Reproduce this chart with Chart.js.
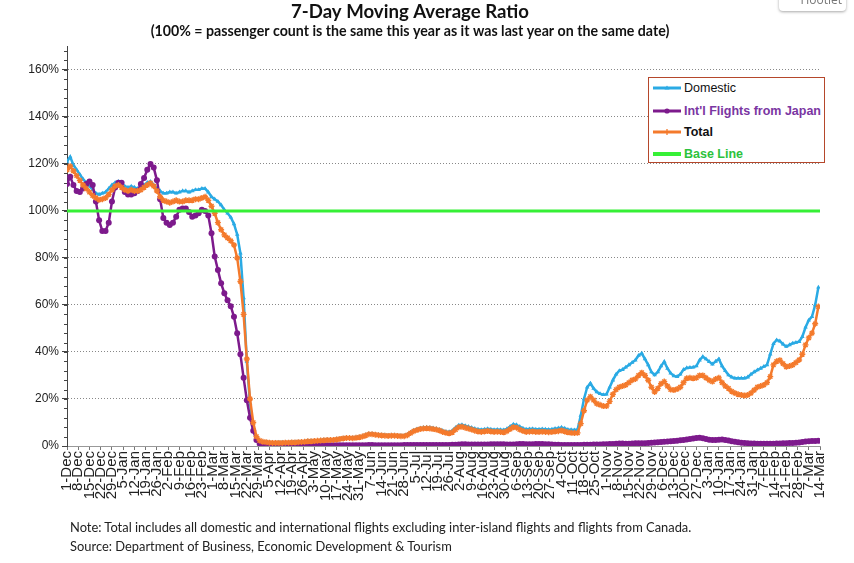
<!DOCTYPE html>
<html>
<head>
<meta charset="utf-8">
<script src="https://cdn.jsdelivr.net/npm/chart.js@4.4.1/dist/chart.umd.min.js"></script>
<style>
  body { margin: 0; background: #fff; }
  #wrap { position: relative; width: 854px; height: 563px; overflow: hidden; }
  #legend { position: absolute; left: 648px; top: 77px; width: 175px; height: 84px;
    border: 1px solid #b5472b; background: #fff; font-family: "Liberation Sans", Arial, sans-serif; font-size: 12.5px; }
  #legend .row { position: absolute; left: 4px; height: 16px; display: flex; align-items: center; }
  #legend svg { margin-right: 2px; }
  #note { position: absolute; left: 70px; top: 518px; font-family: Lato, sans-serif; font-size: 12.9px;
    line-height: 19px; color: #222; }
  #hoot { position: absolute; left: 779px; top: -10px; width: 67px; height: 21px; border-radius: 4px;
    background: #fff; box-shadow: 0 1px 3px rgba(0,0,0,0.35); font-family: "Open Sans", sans-serif;
    font-size: 12px; color: #777; line-height: 20px; text-align: right; padding-right: 4px; box-sizing: border-box; }
</style>
</head>
<body>
<div id="wrap">
  <canvas id="myChart"></canvas>
  <div id="legend"></div>
  <div id="note">Note: Total includes all domestic and international flights excluding inter-island flights and flights from Canada.<br>Source: Department of Business, Economic Development &amp; Tourism</div>
  <div id="hoot">Hootlet</div>
</div>
<script>
// one reading every 2 days, starting 1-Dec-2019
const stepDays = 2;

const weekLabels = [
  '1-Dec', '8-Dec', '15-Dec', '22-Dec', '29-Dec', '5-Jan', '12-Jan', '19-Jan', '26-Jan',
  '2-Feb', '9-Feb', '16-Feb', '23-Feb', '1-Mar', '8-Mar', '15-Mar', '22-Mar', '29-Mar',
  '5-Apr', '12-Apr', '19-Apr', '26-Apr', '3-May', '10-May', '17-May', '24-May', '31-May',
  '7-Jun', '14-Jun', '21-Jun', '28-Jun', '5-Jul', '12-Jul', '19-Jul', '26-Jul', '2-Aug',
  '9-Aug', '16-Aug', '23-Aug', '30-Aug', '6-Sep', '13-Sep', '20-Sep', '27-Sep', '4-Oct',
  '11-Oct', '18-Oct', '25-Oct', '1-Nov', '8-Nov', '15-Nov', '22-Nov', '29-Nov', '6-Dec',
  '13-Dec', '20-Dec', '27-Dec', '3-Jan', '10-Jan', '17-Jan', '24-Jan', '31-Jan', '7-Feb',
  '14-Feb', '21-Feb', '28-Feb', '7-Mar', '14-Mar'
];

const yTicks = [0, 20, 40, 60, 80, 100, 120, 140, 160];
const baseLineValue = 100;

const domestic = [
  121, 123, 119.5, 117.5, 115.5, 113.5, 112, 110.5, 109, 107.5,
  107, 107.5, 108, 109.5, 111, 112, 112.5, 111.5, 110.5, 110,
  110.5, 110, 109.5, 110, 111, 112, 112.5, 111, 109.5, 108.5,
  107.5, 107.5, 108, 108, 107.5, 108, 108.5, 108.5, 108, 108.5,
  109, 109, 109.5, 109.5, 108, 106, 105, 104, 102.5, 100.5,
  99, 97.3, 94.5, 90, 82, 63, 36, 18, 7, 3.2,
  2.2, 1.8, 1.7, 1.6, 1.5, 1.5, 1.5, 1.5, 1.6, 1.6,
  1.7, 1.7, 1.8, 1.9, 2.0, 2.2, 2.2, 2.3, 2.4, 2.5,
  2.6, 2.7, 2.7, 2.8, 3.0, 3.2, 3.4, 3.6, 3.6, 3.5,
  3.7, 3.9, 4.2, 4.7, 5.2, 5.2, 5.0, 4.8, 4.7, 4.6,
  4.5, 4.6, 4.6, 4.5, 4.4, 4.4, 4.9, 5.8, 6.7, 7.2,
  7.6, 7.8, 7.9, 7.8, 7.6, 7.4, 7.0, 6.5, 6.1, 6.0,
  6.5, 7.8, 8.8, 9.0, 8.6, 8.2, 7.8, 7.4, 7.1, 6.9,
  7.1, 7.3, 7.1, 6.9, 7.0, 6.9, 6.8, 7.3, 8.3, 9.2,
  9.0, 8.2, 7.5, 7.1, 7.2, 7.3, 7.1, 7.1, 7.2, 7.1,
  7.0, 7.1, 7.4, 7.6, 7.9, 7.5, 7.0, 6.9, 6.8, 7.0,
  13, 20, 25, 26.7, 24.5, 23, 22.2, 21.8, 22, 25,
  28, 30.5, 32, 32.5, 33.5, 34.5, 35.5, 36.5, 38.5, 39.4,
  37, 34.5, 31.5, 30.2, 31.5, 34, 35.9, 33, 31, 29.8,
  29.5, 30.5, 32.5, 33.2, 33.4, 33.5, 34, 36.5, 38, 37,
  35.9, 34.8, 36, 37, 34, 32, 30.2, 29.3, 28.8, 28.8,
  28.8, 28.8, 29.3, 30.5, 31.5, 32.3, 33, 33.8, 34.5, 39,
  43.5, 45.1, 44.6, 43.3, 42.3, 43, 43.7, 44, 44.4, 46.5,
  50.5, 53.5, 55, 60, 67.5
];

const japan = [
  111.5, 114.5, 111, 108.5, 108, 109.5, 111.5, 112.5, 111, 104,
  96, 91.5, 91.5, 95, 104, 110, 112, 112, 108, 107,
  107, 107.5, 108.5, 111.5, 114, 117.5, 120, 118.5, 113, 105,
  97, 95, 94, 95, 97.5, 100.5, 101, 101, 99.5, 97.5,
  98, 99, 100.5, 100, 98, 90.5, 80.6, 74.9, 69.2, 65,
  62, 59.5, 55, 48, 39, 29, 19.5, 12, 6.5, 2.5,
  1.0, 0.6, 0.5, 0.4, 0.4, 0.3, 0.3, 0.3, 0.3, 0.3,
  0.3, 0.3, 0.3, 0.2, 0.3, 0.3, 0.3, 0.3, 0.3, 0.3,
  0.3, 0.3, 0.3, 0.3, 0.3, 0.3, 0.3, 0.3, 0.3, 0.3,
  0.3, 0.3, 0.3, 0.3, 0.4, 0.4, 0.3, 0.3, 0.3, 0.3,
  0.3, 0.3, 0.3, 0.3, 0.3, 0.4, 0.4, 0.4, 0.4, 0.4,
  0.4, 0.4, 0.4, 0.4, 0.4, 0.4, 0.4, 0.4, 0.4, 0.4,
  0.5, 0.5, 0.6, 0.7, 0.7, 0.6, 0.6, 0.6, 0.6, 0.6,
  0.6, 0.6, 0.7, 0.7, 0.7, 0.7, 0.7, 0.6, 0.6, 0.6,
  0.7, 0.8, 0.8, 0.7, 0.7, 0.7, 0.8, 0.8, 0.8, 0.7,
  0.7, 0.6, 0.5, 0.5, 0.4, 0.4, 0.4, 0.4, 0.4, 0.4,
  0.4, 0.5, 0.5, 0.5, 0.6, 0.6, 0.6, 0.7, 0.7, 0.8,
  0.9, 1.0, 1.1, 1.1, 1.0, 1.0, 1.1, 1.2, 1.2, 1.2,
  1.2, 1.3, 1.4, 1.5, 1.6, 1.7, 1.8, 1.9, 2.0, 2.1,
  2.2, 2.4, 2.6, 2.8, 3.0, 3.2, 3.4, 3.5, 3.3, 3.0,
  2.7, 2.6, 2.6, 2.7, 2.8, 2.6, 2.3, 2.0, 1.8, 1.6,
  1.4, 1.3, 1.2, 1.1, 1.1, 1.0, 1.0, 1.0, 1.0, 1.0,
  1.0, 1.1, 1.1, 1.2, 1.2, 1.3, 1.3, 1.4, 1.5, 1.7,
  1.9, 2.0, 2.1, 2.1, 2.2
];

const total = [
  117.5, 119, 117, 115, 113, 111, 109.5, 108, 106.5, 105.5,
  104.7, 105, 105.5, 107, 109, 110.5, 111, 110, 109, 108.5,
  109, 108.5, 108.5, 109, 110, 111, 111.8, 110.5, 108.5, 106,
  104.5, 104, 103.5, 104, 104.5, 104, 104, 104.5, 104.5, 104.5,
  105, 105, 105.5, 106, 104.5, 102, 99, 95, 92, 89.8,
  88.5, 87.3, 85.5, 80, 70, 56, 37, 20, 10, 4,
  2.3, 1.8, 1.6, 1.4, 1.3, 1.3, 1.3, 1.3, 1.4, 1.4,
  1.5, 1.5, 1.6, 1.7, 1.8, 2.0, 2.0, 2.1, 2.2, 2.3,
  2.4, 2.5, 2.5, 2.6, 2.8, 3.0, 3.2, 3.4, 3.4, 3.3,
  3.5, 3.7, 4.0, 4.5, 5.0, 5.0, 4.8, 4.6, 4.5, 4.4,
  4.3, 4.4, 4.4, 4.3, 4.2, 4.2, 4.6, 5.5, 6.3, 6.8,
  7.2, 7.4, 7.5, 7.4, 7.2, 7.0, 6.6, 6.0, 5.6, 5.4,
  5.8, 7.0, 8.0, 8.2, 7.8, 7.4, 7.0, 6.5, 6.2, 6.0,
  6.2, 6.4, 6.2, 6.0, 6.1, 6.0, 5.8, 6.3, 7.2, 8.0,
  7.8, 7.0, 6.4, 6.0, 6.1, 6.2, 6.0, 6.0, 6.1, 6.0,
  5.9, 6.0, 6.2, 6.3, 6.6, 6.2, 5.8, 5.6, 5.5, 5.6,
  9.5, 15, 19.5, 21, 19.5, 18, 17.5, 17, 17, 19,
  22, 24, 25, 25.5, 26, 27, 28, 28.5, 30, 31.2,
  30, 28, 25, 23, 24.5, 26.5, 27.4, 25.5, 24, 23.8,
  24.2, 25, 27, 28.8, 29, 28.8, 29, 30, 30, 29,
  28, 27.4, 28.5, 29, 27, 25.5, 24.5, 23.2, 22.5, 22,
  21.7, 21.5, 21.7, 22.5, 23.8, 25, 25.5, 26, 27, 29.5,
  34.5, 36, 36.5, 35, 33.7, 34, 34.5, 35.5, 36.6, 39,
  43, 46, 48, 52, 59.3
];

const lastDay = (weekLabels.length - 1) * 7;
const toPoints = arr => arr.map((v, i) => ({ x: i * stepDays, y: v }));

const colors = {
  domestic: '#2aaae4',
  japan: '#7d1a8c',
  total: '#f47a2c',
  base: '#36f036'
};

const minorTicks = {
  id: 'minorTicks',
  afterDraw(chart) {
    const ys = chart.scales.y;
    const ctx = chart.ctx;
    const x0 = chart.chartArea.left;
    ctx.save();
    ctx.strokeStyle = '#444';
    ctx.lineWidth = 1;
    for (let v = 0; v <= 168; v += 4) {
      const py = Math.round(ys.getPixelForValue(v)) + 0.5;
      ctx.beginPath();
      ctx.moveTo(x0 - 3, py);
      ctx.lineTo(x0, py);
      ctx.stroke();
    }
    ctx.restore();
  }
};

const ctx = document.getElementById('myChart');

new Chart(ctx, {
  type: 'line',
  data: {
    datasets: [
      {
        label: 'Base Line',
        data: [{ x: 0, y: baseLineValue }, { x: lastDay, y: baseLineValue }],
        borderColor: colors.base,
        borderWidth: 3,
        pointRadius: 0,
        order: 0
      },
      {
        label: 'Total',
        data: toPoints(total),
        borderColor: colors.total,
        backgroundColor: colors.total,
        borderWidth: 2.5,
        pointStyle: 'star',
        pointRadius: 3,
        pointBorderWidth: 1.4,
        order: 1
      },
      {
        label: "Int'l Flights from Japan",
        data: toPoints(japan),
        borderColor: colors.japan,
        backgroundColor: colors.japan,
        borderWidth: 2.5,
        pointStyle: 'circle',
        pointRadius: 3,
        pointBorderWidth: 0,
        order: 2
      },
      {
        label: 'Domestic',
        data: toPoints(domestic),
        borderColor: colors.domestic,
        backgroundColor: colors.domestic,
        borderWidth: 2.5,
        pointStyle: 'triangle',
        pointRadius: 2.6,
        pointBorderWidth: 0,
        order: 3
      }
    ]
  },
  options: {
    responsive: true,
    maintainAspectRatio: false,
    animation: false,
    layout: { padding: { left: 0, right: 34, top: 0, bottom: 0 } },
    plugins: {
      legend: { display: false },
      tooltip: { enabled: false },
      title: {
        display: true,
        text: '7-Day Moving Average Ratio',
        color: '#111',
        font: { family: 'Lato', size: 18.6, weight: 'bold' },
        padding: { top: 1, bottom: 0 }
      },
      subtitle: {
        display: true,
        text: '(100% = passenger count is the same this year as it was last year on the same date)',
        color: '#111',
        font: { family: 'Lato', size: 14.2, weight: 'bold' },
        padding: { top: 0, bottom: 6 }
      }
    },
    elements: { line: { tension: 0 } },
    scales: {
      x: {
        type: 'linear',
        min: 0,
        max: lastDay,
        afterBuildTicks: s => { s.ticks = weekLabels.map((_, i) => ({ value: i * 7 })); },
        afterFit: s => { s.height = 117; },
        ticks: {
          autoSkip: false,
          minRotation: 90,
          maxRotation: 90,
          padding: 1,
          color: '#222',
          font: { family: 'Liberation Sans', size: 15 },
          callback: (v, i) => weekLabels[i]
        },
        grid: { drawOnChartArea: false, tickLength: 4, color: '#777' },
        border: { color: '#999' }
      },
      y: {
        min: 0,
        max: 170,
        afterBuildTicks: s => { s.ticks = yTicks.map(v => ({ value: v })); },
        afterFit: s => { s.width = 67; },
        ticks: {
          padding: 3,
          color: '#222',
          font: { family: 'Liberation Sans', size: 12 },
          callback: v => v + '%'
        },
        grid: {
          color: c => (c.tick && c.tick.value === 0 ? 'rgba(0,0,0,0)' : '#888'),
          tickColor: '#444',
          tickLength: 5,
          lineWidth: 1
        },
        // in v4 the dash here styles the grid lines
        border: { color: '#444', dash: [1, 2], dashOffset: 0 }
      }
    }
  },
  plugins: [minorTicks]
});

// legend box drawn as html to match the mixed text styles
const legendItems = [
  { text: 'Domestic', color: colors.domestic, textColor: '#111', weight: 'normal', marker: 'tri' },
  { text: "Int'l Flights from Japan", color: colors.japan, textColor: '#7a35a2', weight: 'bold', marker: 'dot' },
  { text: 'Total', color: colors.total, textColor: '#111', weight: 'bold', marker: 'plus' },
  { text: 'Base Line', color: colors.base, textColor: '#2cc23c', weight: 'bold', marker: 'none' }
];
const legendTops = [2, 25, 46, 68];
const legendEl = document.getElementById('legend');
legendItems.forEach((it, i) => {
  let mark = '';
  if (it.marker === 'dot') mark = `<circle cx="14" cy="8" r="2.6" fill="${it.color}"/>`;
  if (it.marker === 'tri') mark = `<path d="M14 5.5 L16.5 9.5 L11.5 9.5 Z" fill="${it.color}"/>`;
  if (it.marker === 'plus') mark = `<path d="M14 5 V11 M11 8 H17" stroke="${it.color}" stroke-width="1.3"/>`;
  const w = it.marker === 'none' ? 4 : 3;
  legendEl.insertAdjacentHTML('beforeend',
    `<div class="row" style="top:${legendTops[i]}px">` +
    `<svg width="29" height="16"><line x1="0" y1="8" x2="28" y2="8" stroke="${it.color}" stroke-width="${w}"/>${mark}</svg>` +
    `<span style="color:${it.textColor};font-weight:${it.weight}">${it.text}</span></div>`);
});
</script>
</body>
</html>
